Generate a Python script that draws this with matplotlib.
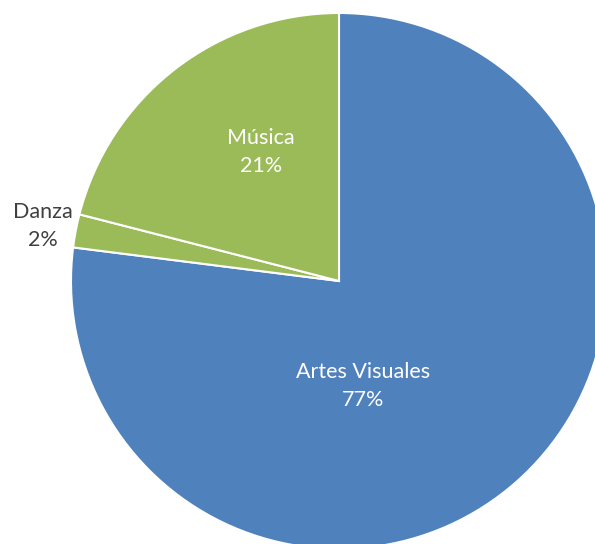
import matplotlib.pyplot as plt

categories = ["Artes Visuales", "Danza", "Música"]
values = [77, 2, 21]
colors = ["#4F81BD", "#9BBB59", "#9BBB59"]

fig = plt.figure(figsize=(5.95, 5.44), dpi=100)
ax = fig.add_axes([0, 0, 1, 1])
ax.set_xlim(0, 595)
ax.set_ylim(0, 544)
ax.set_aspect("equal")
ax.axis("off")

wedges, _ = ax.pie(values, colors=colors, startangle=90, counterclock=False,
                   center=(339, 263), radius=268,
                   wedgeprops=dict(edgecolor="white", linewidth=1.5))
ax.set_xlim(0, 595)
ax.set_ylim(0, 544)

font = "Lato"
total = sum(values)
# label positions (pixel coords from top-left)
label_pos = {"Artes Visuales": (363, 386), "Danza": (43, 226), "Música": (261, 152)}
label_col = {"Artes Visuales": "white", "Danza": "#404040", "Música": "white"}
for c, v in zip(categories, values):
    x, y = label_pos[c]
    ax.text(x, 544 - y, f"{c}\n{round(v / total * 100)}%", ha="center", va="center",
            fontsize=15.5, color=label_col[c], family=font, linespacing=1.5)

fig.savefig("out.png", dpi=100)
